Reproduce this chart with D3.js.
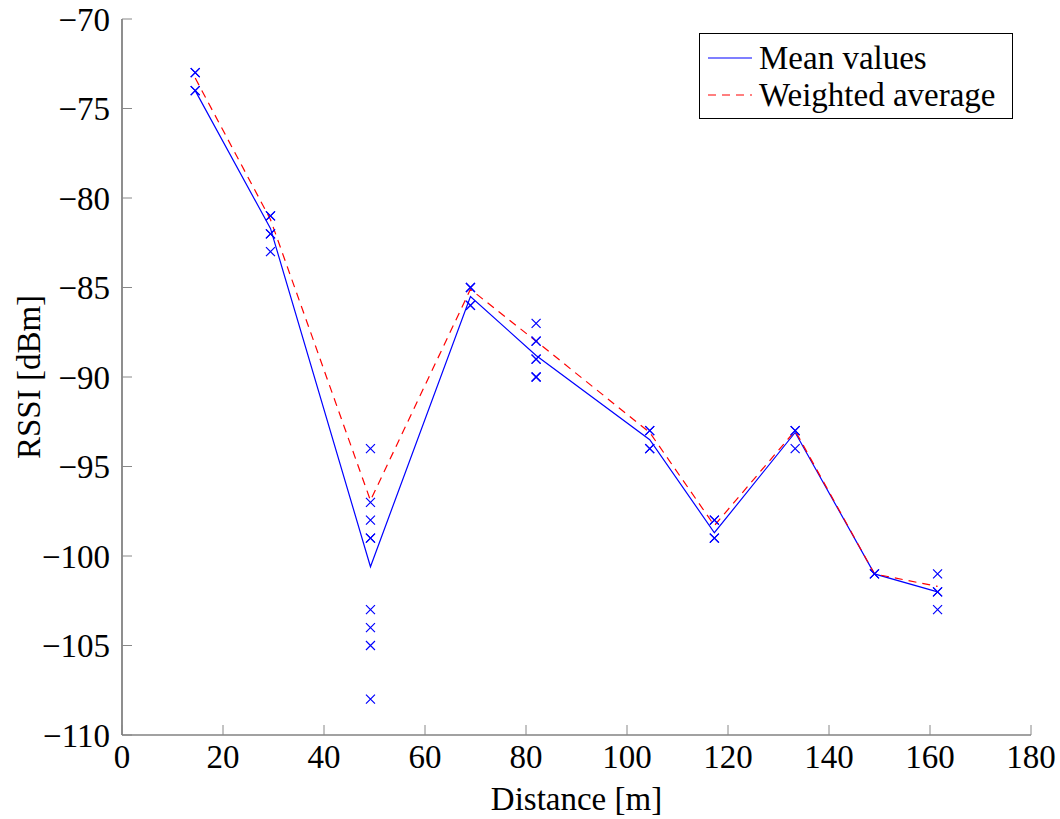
<!DOCTYPE html>
<html>
<head>
<meta charset="utf-8">
<script src="https://cdn.jsdelivr.net/npm/d3@7"></script>
<style>
  body { margin: 0; background: #fff; }
  text { font-family: "Liberation Serif", "DejaVu Serif", serif; fill: #000; }
</style>
</head>
<body>
<div id="chart"></div>
<script>
// distances [m] of the measurement spots
var distances = [14.5, 29.4, 49.2, 69.0, 82.0, 104.5, 117.3, 133.3, 149.0, 161.5];
// mean and weighted average RSSI per spot
var meanValues = [-74.0, -81.7, -100.6, -85.5, -88.8, -93.5, -98.7, -93.1, -101.0, -102.0];
var weightedValues = [-73.3, -81.2, -96.9, -85.1, -88.0, -93.1, -98.3, -93.0, -101.0, -101.7];
// raw samples per spot (repeats drawn on top of each other)
var samples = [
    [-73, -73, -74, -74],
    [-81, -81, -82, -82, -83],
    [-94, -97, -98, -99, -99, -103, -104, -105, -108],
    [-85, -85, -86, -86],
    [-87, -88, -88, -89, -89, -90, -90],
    [-93, -93, -94, -94],
    [-98, -98, -99, -99],
    [-93, -93, -94],
    [-101, -101],
    [-101, -102, -102, -103]
];
var xTicks = [0, 20, 40, 60, 80, 100, 120, 140, 160, 180];
var yTicks = [-110, -105, -100, -95, -90, -85, -80, -75, -70];

var width = 1060;
var height = 819;
var margin = {left: 122, right: 29, top: 19, bottom: 84};

var x = d3.scaleLinear().domain([0, 180]).range([margin.left, width - margin.right]);
var y = d3.scaleLinear().domain([-110, -70]).range([height - margin.bottom, margin.top]);

var svg = d3.select("#chart").append("svg").attr("width", width).attr("height", height);

var fontSize = 33;
var minus = function (v) { return v < 0 ? "\u2212" + Math.abs(v) : "" + v; };

// axes
var axisColor = "#444";
svg.append("line")
    .attr("x1", x(0)).attr("x2", x(0)).attr("y1", y(-110)).attr("y2", y(-70))
    .attr("stroke", axisColor).attr("stroke-width", 1.2);
svg.append("line")
    .attr("x1", x(0)).attr("x2", x(180)).attr("y1", y(-110)).attr("y2", y(-110))
    .attr("stroke", axisColor).attr("stroke-width", 1.2);

svg.selectAll(".ytick").data(yTicks).enter().append("line")
    .attr("x1", x(0)).attr("x2", x(0) + 10)
    .attr("y1", function (d) { return y(d); }).attr("y2", function (d) { return y(d); })
    .attr("stroke", "#888").attr("stroke-width", 1);
svg.selectAll(".xtick").data(xTicks).enter().append("line")
    .attr("x1", function (d) { return x(d); }).attr("x2", function (d) { return x(d); })
    .attr("y1", y(-110)).attr("y2", y(-110) - 10)
    .attr("stroke", "#888").attr("stroke-width", 1);

svg.selectAll(".ylab").data(yTicks).enter().append("text")
    .attr("x", x(0) - 12).attr("y", function (d) { return y(d); })
    .attr("dy", "0.35em").attr("text-anchor", "end")
    .style("font-size", fontSize + "px")
    .text(minus);
svg.selectAll(".xlab").data(xTicks).enter().append("text")
    .attr("x", function (d) { return x(d); }).attr("y", y(-110) + 33)
    .attr("text-anchor", "middle")
    .style("font-size", fontSize + "px")
    .text(minus);

svg.append("text")
    .attr("x", (x(0) + x(180)) / 2).attr("y", 810)
    .attr("text-anchor", "middle").style("font-size", fontSize + "px")
    .text("Distance [m]");
svg.append("text")
    .attr("transform", "translate(40," + ((y(-70) + y(-110)) / 2) + ") rotate(-90)")
    .attr("text-anchor", "middle").style("font-size", fontSize + "px")
    .text("RSSI [dBm]");

// lines
var line = d3.line()
    .x(function (d, i) { return x(distances[i]); })
    .y(function (d) { return y(d); });

svg.append("path").attr("d", line(meanValues))
    .attr("fill", "none").attr("stroke", "#0000ff").attr("stroke-width", 1.2);
svg.append("path").attr("d", line(weightedValues))
    .attr("fill", "none").attr("stroke", "#ff0000").attr("stroke-width", 1.2)
    .attr("stroke-dasharray", "8,6");

// sample markers
var points = [];
samples.forEach(function (vals, i) {
    vals.forEach(function (v) { points.push({d: distances[i], v: v}); });
});
var s = 4.5;
svg.selectAll(".pt").data(points).enter().append("path")
    .attr("transform", function (p) { return "translate(" + x(p.d) + "," + y(p.v) + ")"; })
    .attr("d", "M" + (-s) + "," + (-s) + "L" + s + "," + s + "M" + (-s) + "," + s + "L" + s + "," + (-s))
    .attr("stroke", "#0000ff").attr("stroke-width", 1.2).attr("fill", "none");

// legend
var lg = svg.append("g");
lg.append("rect").attr("x", 699.5).attr("y", 33.5).attr("width", 313).attr("height", 85)
    .attr("fill", "#fff").attr("stroke", "#000").attr("stroke-width", 1);
lg.append("line").attr("x1", 708).attr("x2", 752).attr("y1", 58).attr("y2", 58)
    .attr("stroke", "#0000ff").attr("stroke-width", 1.2);
lg.append("line").attr("x1", 708).attr("x2", 752).attr("y1", 95).attr("y2", 95)
    .attr("stroke", "#ff0000").attr("stroke-width", 1.2).attr("stroke-dasharray", "8,6");
lg.append("text").attr("x", 759).attr("y", 69).style("font-size", fontSize + "px").text("Mean values");
lg.append("text").attr("x", 759).attr("y", 106).style("font-size", fontSize + "px").text("Weighted average");
</script>
</body>
</html>
